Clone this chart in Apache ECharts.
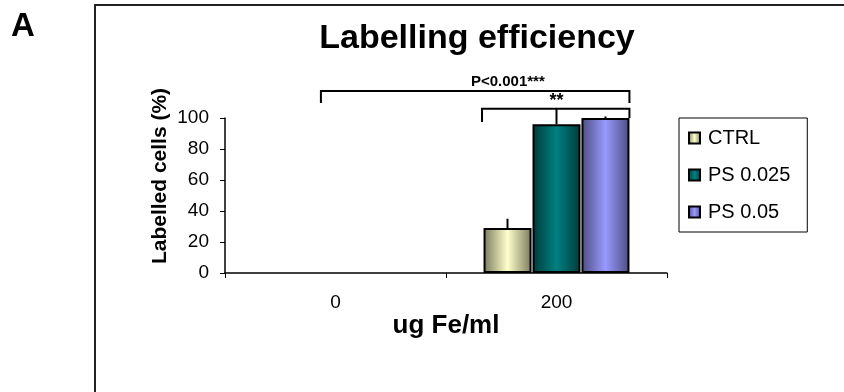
<!DOCTYPE html>
<html>
<head>
<meta charset="utf-8">
<script src="https://cdn.jsdelivr.net/npm/echarts@6/dist/echarts.min.js"></script>
<style>html,body{margin:0;padding:0;background:#fff}#c{width:844px;height:392px}</style>
</head>
<body>
<div id="c"></div>
<script>
// ---- data ----
const categories = ['0', '200'];
const seriesNames = ['CTRL', 'PS 0.025', 'PS 0.05'];
const ctrlValues = [0, 29];
const ps025Values = [0, 96];
const ps05Values = [0, 100];
const ctrlErr = [0, 6];
const ps025Err = [0, 10.5];
const ps05Err = [0, 1];
const yTicks = [0, 20, 40, 60, 80, 100];
// significance brackets: [xStart, xEnd, yTop, yLeftEnd, yRightEnd] in (category-span, value) units
const brackets = [
  [0.434, 1.83, 117.4, 109.7, 109.7],
  [1.163, 1.83, 106, 97.4, 100]
];
const bracketLabels = [
  [1.28, 123, 'P<0.001***'],
  [1.50, 111, '**']
];

const values = [ctrlValues, ps025Values, ps05Values];
const errs = [ctrlErr, ps025Err, ps05Err];
const colors = [
  ['#7a7a5c', '#ffffcc'],
  ['#003a3a', '#008080'],
  ['#4d4d80', '#9999ff']
];
function grad(c) {
  return new echarts.graphic.LinearGradient(0, 0, 1, 0, [
    {offset: 0, color: c[0]}, {offset: 0.5, color: c[1]}, {offset: 1, color: c[0]}
  ]);
}
const BAR_W = 48, BAR_STEP = 49;
const FONT = '"Liberation Sans", Arial, sans-serif';

const chart = echarts.init(document.getElementById('c'));
const series = [];
seriesNames.forEach((n, i) => {
  series.push({
    name: n, type: 'bar', barWidth: BAR_W, barGap: '2%',
    data: values[i].map(v => (v === 0 ? {value: v, itemStyle: {borderWidth: 0}} : v)),
    itemStyle: {color: grad(colors[i]), borderColor: '#000', borderWidth: 2},
    emphasis: {disabled: true}
  });
});
seriesNames.forEach((n, i) => {
  series.push({
    type: 'custom', silent: true, z: 1,
    data: errs[i].map((e, k) => [k, values[i][k], e]),
    renderItem: function (params, api) {
      if (api.value(2) <= 0) return null;
      const p0 = api.coord([api.value(0), api.value(1)]);
      const p1 = api.coord([api.value(0), api.value(1) + api.value(2)]);
      const dx = (i - 1) * BAR_STEP;
      return {type: 'line', shape: {x1: p0[0] + dx, y1: p0[1], x2: p1[0] + dx, y2: p1[1]},
        style: {stroke: '#000', lineWidth: 2}};
    }
  });
});
series.push({
  type: 'custom', silent: true, xAxisIndex: 1, clip: false,
  data: brackets,
  renderItem: function (params, api) {
    const a = api.coord([api.value(0), api.value(2)]);
    const b = api.coord([api.value(1), api.value(2)]);
    const al = api.coord([api.value(0), api.value(3)]);
    const br = api.coord([api.value(1), api.value(4)]);
    return {type: 'polyline', shape: {points: [[al[0], al[1]], [a[0], a[1]], [b[0], b[1]], [br[0], br[1]]]},
      style: {stroke: '#000', lineWidth: 2, fill: null}};
  }
});
series.push({
  type: 'custom', silent: true, xAxisIndex: 1, clip: false,
  data: bracketLabels,
  renderItem: function (params, api) {
    const p = api.coord([api.value(0), api.value(1)]);
    return {type: 'text', x: p[0], y: p[1],
      style: {text: bracketLabels[params.dataIndex][2], fill: '#000', align: 'center', verticalAlign: 'middle',
        font: 'bold ' + (params.dataIndex === 0 ? 15 : 18) + 'px ' + FONT}};
  }
});

chart.setOption({
  animation: false,
  textStyle: {fontFamily: FONT, color: '#000'},
  title: {text: 'Labelling efficiency', left: 472, top: 17, textAlign: 'center',
    textStyle: {fontSize: 34, fontWeight: 'bold', color: '#000', fontFamily: FONT}},
  graphic: [
    {type: 'rect', shape: {x: 95, y: 5, width: 800, height: 450}, style: {fill: null, stroke: '#222', lineWidth: 2}, silent: true},
    {type: 'text', x: 11, y: 10, style: {text: 'A', font: 'bold 33px ' + FONT, fill: '#000'}},
    {type: 'text', x: 160, y: 176, rotation: Math.PI / 2,
      style: {text: 'Labelled cells (%)', font: 'bold 21px ' + FONT, fill: '#000', align: 'center', verticalAlign: 'middle'}}
  ],
  legend: {
    orient: 'vertical', left: 679, top: 118,
    data: seriesNames,
    itemWidth: 11, itemHeight: 11, itemGap: 17,
    padding: [10, 17, 10, 9],
    borderColor: '#000', borderWidth: 1,
    icon: 'rect',
    textStyle: {fontSize: 20, color: '#000', padding: [0, 0, 0, 3], fontFamily: FONT},
    selectedMode: false
  },
  grid: {left: 225, top: 118, width: 442, height: 155, containLabel: false},
  xAxis: [{
    type: 'category', data: categories,
    name: 'ug Fe/ml', nameLocation: 'middle', nameGap: 35,
    nameTextStyle: {fontSize: 26, fontWeight: 'bold', color: '#000'},
    axisLine: {lineStyle: {color: '#000', width: 1.5}},
    axisTick: {show: true, length: 5, lineStyle: {color: '#000'}},
    axisLabel: {fontSize: 19, color: '#000', margin: 20}
  }, {
    type: 'value', min: 0, max: 2, show: false
  }],
  yAxis: {
    type: 'value', min: 0, max: 100, interval: 20,
    axisLine: {show: true, lineStyle: {color: '#000', width: 1.5}},
    axisTick: {show: true, length: 5, lineStyle: {color: '#000'}},
    axisLabel: {fontSize: 19, color: '#000', margin: 16,
      formatter: v => (yTicks.indexOf(v) >= 0 ? String(v) : '')},
    splitLine: {show: false}
  },
  series: series
});
</script>
</body>
</html>
